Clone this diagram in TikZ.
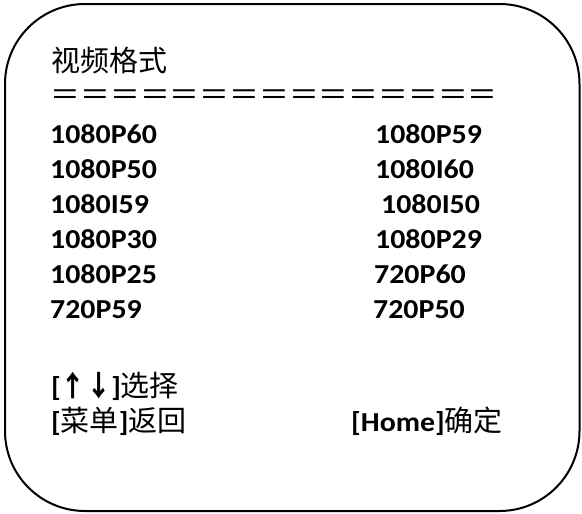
\documentclass[tikz,border=0pt]{standalone}
\usepackage{graphicx}
\usepackage{fontspec}
\setmainfont{Carlito}[FakeStretch=1.09]
\newfontfamily\cjk{Noto Sans CJK SC}
\tikzset{
  boxframe/.style={draw=black, line width=2pt, rounded corners=80pt},
  lbl/.style={inner sep=0pt, anchor=base west, font=\fontsize{27.4}{30}\selectfont\bfseries},
  cjklbl/.style={inner sep=0pt, anchor=base west, font=\fontsize{29}{32}\selectfont\cjk},
  rulelbl/.style={inner sep=0pt, anchor=base west, font=\fontsize{29.8}{32}\selectfont\cjk},
}
\newcommand{\cjkreg}[1]{{\cjk\mdseries\fontsize{29}{32}\selectfont #1}}
\newcommand{\cjkarrow}[1]{\scalebox{1.05}[1.2]{\cjk\bfseries\fontsize{24}{26}\selectfont #1}}
\begin{document}
\begin{tikzpicture}[x=1pt,y=-1pt]
\useasboundingbox (0,0) rectangle (582,514);
\draw[boxframe] (5,4) rectangle (579.5,511);
\node[cjklbl] (title) at (51,71) {视频格式};
\node[rulelbl] (rule) at (50.5,105.5) {＝＝＝＝＝＝＝＝＝＝＝＝＝＝＝};
% left column
\node[lbl] (l1) at (50,143) {1080P60};
\node[lbl] (l2) at (50,178) {1080P50};
\node[lbl] (l3) at (50,213) {1080I59};
\node[lbl] (l4) at (50,248) {1080P30};
\node[lbl] (l5) at (50,283) {1080P25};
\node[lbl] (l6) at (50,318) {720P59};
% right column
\node[lbl] (r1) at (375,143) {1080P59};
\node[lbl] (r2) at (375,178) {1080I60};
\node[lbl] (r3) at (381,213) {1080I50};
\node[lbl] (r4) at (375,248) {1080P29};
\node[lbl] (r5) at (374,283) {720P60};
\node[lbl] (r6) at (373,318) {720P50};
% bottom
\node[lbl] (sel) at (51,396) {[\cjkarrow{↑↓}]\cjkreg{选择}};
\node[lbl] (menu) at (51,431) {[\cjkreg{菜单}]\cjkreg{返回}};
\node[lbl] (home) at (351,431) {[Home]\cjkreg{确定}};
\end{tikzpicture}
\end{document}
